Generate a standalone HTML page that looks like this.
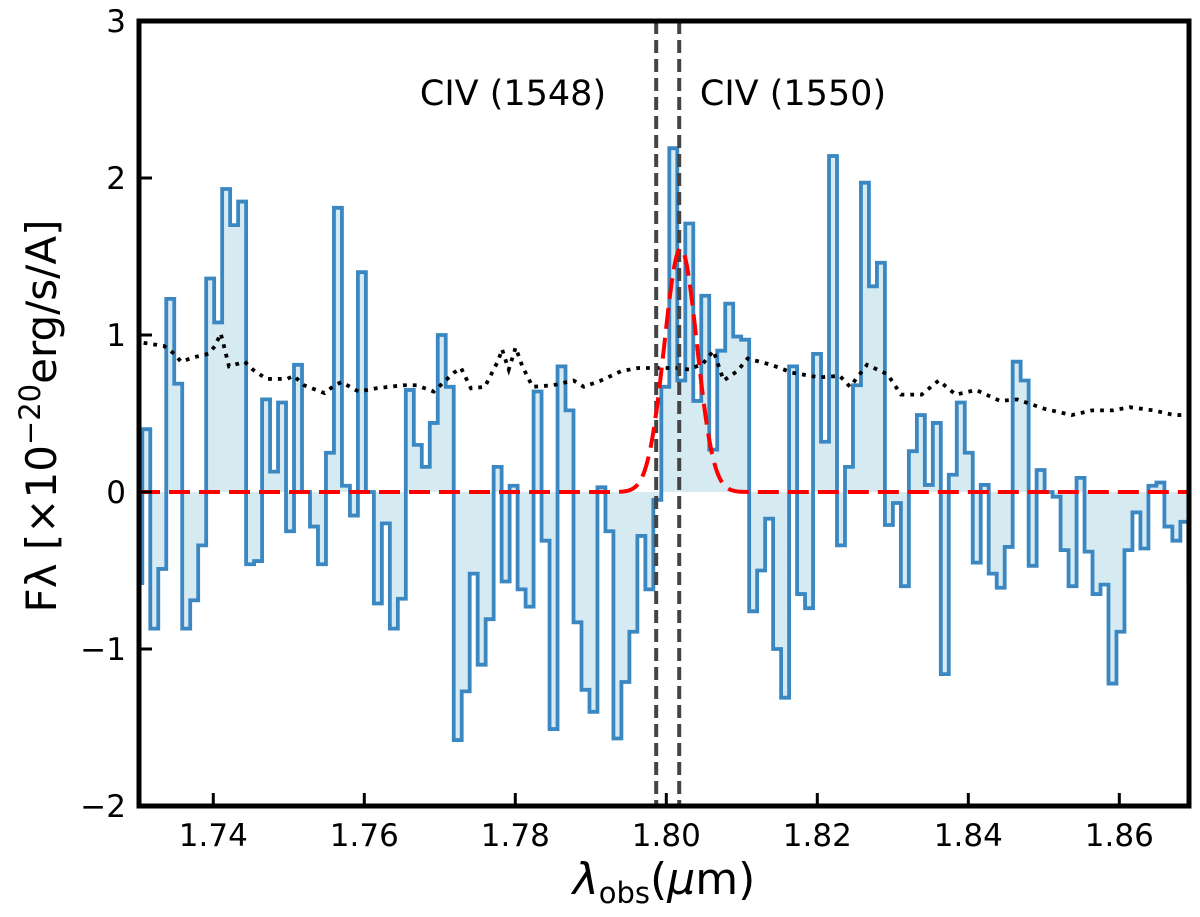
<!DOCTYPE html>
<html><head><meta charset="utf-8"><style>
html,body{margin:0;padding:0;background:#fff;}
svg text{font-family:"DejaVu Sans","Liberation Sans",sans-serif;}
</style></head><body>
<svg id="chart" width="1200" height="912" viewBox="0 0 1200 912" xmlns="http://www.w3.org/2000/svg">
<defs><clipPath id="plotclip"><rect x="139" y="21" width="1050" height="785"/></clipPath></defs>
<g id="plot" clip-path="url(#plotclip)"></g>
<g id="axes"></g>
<text x="513" y="105" font-size="35" text-anchor="middle">CIV (1548)</text>
<text x="793" y="105" font-size="35" text-anchor="middle">CIV (1550)</text>
<text x="664" y="894" font-size="44" text-anchor="middle"><tspan font-style="italic">λ</tspan><tspan font-size="29" dy="9">obs</tspan><tspan dy="-9">(</tspan><tspan font-style="italic">μ</tspan><tspan>m)</tspan></text>
<text transform="translate(56,416) rotate(-90)" font-size="42" text-anchor="middle">Fλ [×10<tspan font-size="29" dy="-16">−20</tspan><tspan dy="16">erg/s/A]</tspan></text>
</svg>
<script>
// ---- data ----
const binStart = 1.72954;   // first bin left edge (µm)
const binWidth = 0.0010576; // bin width (µm)
const fluxValues = [-0.58,0.40,-0.87,-0.49,1.23,0.69,-0.87,-0.69,-0.34,1.36,1.08,1.93,1.70,1.85,-0.46,-0.44,0.59,0.13,0.57,-0.25,
0.81,0.0,-0.22,-0.46,0.25,1.81,0.04,-0.15,1.40,0.0,-0.71,-0.2,-0.87,-0.68,0.65,0.30,0.16,0.44,1.00,0.67,
-1.58,-1.27,-0.52,-1.10,-0.81,0.16,-0.57,0.04,-0.62,-0.73,0.64,-0.31,-1.51,0.80,0.52,-0.83,-1.26,-1.40,0.03,-0.25,
-1.57,-1.21,-0.89,-0.28,-0.62,-0.05,0.67,2.19,0.71,1.71,0.58,1.25,0.27,0.90,1.20,0.99,0.97,-0.76,-0.50,-0.17,
-1.00,-1.31,0.80,-0.65,-0.74,0.88,0.32,2.14,-0.34,0.16,0.68,1.97,1.31,1.46,-0.21,-0.07,-0.60,0.26,0.49,0.045,
0.44,-1.16,0.11,0.57,0.25,-0.45,0.045,-0.52,-0.61,-0.35,0.83,0.71,-0.47,0.14,0.0,-0.03,-0.37,-0.60,0.09,-0.38,
-0.65,-0.59,-1.22,-0.89,-0.37,-0.13,-0.36,0.04,0.06,-0.22,-0.31,-0.19,-0.57];
const noiseX = [1.73077,1.73347,1.73485,1.73572,1.73758,1.73936,1.74023,1.74099,1.74208,1.74415,1.74523,1.74705,1.74976,1.75066,1.75201,1.75473,1.75608,1.75698,1.75924,1.76151,1.76513,1.76693,1.76919,1.77188,1.77281,1.77413,1.77597,1.77777,1.77824,1.77913,1.78004,1.78094,1.78229,1.78499,1.78772,1.78907,1.79134,1.79404,1.79630,1.79857,1.80128,1.80309,1.80489,1.80624,1.80760,1.80940,1.81077,1.81393,1.81665,1.82022,1.82297,1.82433,1.82658,1.82930,1.83109,1.83381,1.83607,1.83833,1.84102,1.84420,1.84645,1.85008,1.85370,1.85639,1.85913,1.86138,1.86454,1.86724,1.86949];
const noiseY = [0.95,0.93,0.88,0.83,0.86,0.88,0.93,1.01,0.80,0.83,0.78,0.72,0.72,0.74,0.68,0.63,0.68,0.70,0.64,0.66,0.68,0.68,0.64,0.76,0.79,0.66,0.67,0.84,0.91,0.78,0.92,0.80,0.67,0.68,0.71,0.67,0.71,0.77,0.79,0.79,0.79,0.78,0.82,0.90,0.71,0.77,0.85,0.81,0.76,0.73,0.74,0.67,0.81,0.75,0.62,0.62,0.71,0.62,0.65,0.58,0.59,0.53,0.49,0.52,0.52,0.54,0.52,0.49,0.49];
const gaussAmp = 1.55, gaussCenter = 1.80190, gaussSigma = 0.00216;
const lineWaves = [1.79866, 1.80171];
const xTicks = [1.74,1.76,1.78,1.80,1.82,1.84,1.86];
const xTickLabels = ["1.74","1.76","1.78","1.80","1.82","1.84","1.86"];
const yTicks = [-2,-1,0,1,2,3];
const yTickLabels = ["−2","−1","0","1","2","3"];

// ---- scales ----
const L=139,R=1189,T=21,B=806;
const xmin=1.73016,xmax=1.86923,ymin=-2,ymax=3;
const X=v=>L+(v-xmin)/(xmax-xmin)*(R-L);
const Y=v=>B-(v-ymin)/(ymax-ymin)*(B-T);
const NS="http://www.w3.org/2000/svg";
const plot=document.getElementById('plot'), axes=document.getElementById('axes');
function mk(tag,attrs,parent){const e=document.createElementNS(NS,tag);for(const k in attrs)e.setAttribute(k,attrs[k]);parent.appendChild(e);return e;}

// step fill + outline
let d='', fd='M'+X(binStart).toFixed(2)+','+Y(0).toFixed(2);
fluxValues.forEach((v,i)=>{
  const x0=X(binStart+i*binWidth), x1=X(binStart+(i+1)*binWidth), y=Y(v);
  d+=(i===0?'M':'L')+x0.toFixed(2)+','+y.toFixed(2)+'L'+x1.toFixed(2)+','+y.toFixed(2);
  fd+='L'+x0.toFixed(2)+','+y.toFixed(2)+'L'+x1.toFixed(2)+','+y.toFixed(2);
});
fd+='L'+X(binStart+fluxValues.length*binWidth).toFixed(2)+','+Y(0).toFixed(2)+'Z';
const fill=mk('path',{d:fd,fill:'#d6eaf2',stroke:'none'},plot);


const step=mk('path',{d:d,fill:'none',stroke:'#3a87c1','stroke-width':3.8,'stroke-linejoin':'miter'},plot);



// noise dotted
let nd='';
noiseX.forEach((x,i)=>{nd+=(i?'L':'M')+X(x).toFixed(2)+','+Y(noiseY[i]).toFixed(2);});
const noise=mk('path',{d:nd,fill:'none',stroke:'#000','stroke-width':3.8,'stroke-dasharray':'3.8,6'},plot);



// vertical line markers
lineWaves.forEach((w,i)=>{
  const vl=mk('line',{x1:X(w),x2:X(w),y1:T,y2:B,stroke:'#444','stroke-width':4,'stroke-dasharray':'13,6'},plot);
  
  
});

// gaussian model
let gd='';
for(let k=0;k<=700;k++){
  const x=xmin+(xmax-xmin)*k/700;
  const y=gaussAmp*Math.exp(-0.5*Math.pow((x-gaussCenter)/gaussSigma,2));
  gd+=(k?'L':'M')+X(x).toFixed(2)+','+Y(y).toFixed(2);
}
const g=mk('path',{d:gd,fill:'none',stroke:'#ff0000','stroke-width':4,'stroke-dasharray':'21,9'},plot);



// frame
const fr=mk('rect',{x:L,y:T,width:R-L,height:B-T,fill:'none',stroke:'#000','stroke-width':5},axes);


xTicks.forEach((t,i)=>{
  const tk=mk('line',{x1:X(t),x2:X(t),y1:B,y2:B-13,stroke:'#000','stroke-width':3},axes);
  
  
  const lb=mk('text',{x:X(t),y:B+40,'font-size':31,'text-anchor':'middle'},axes);
  lb.textContent=xTickLabels[i];
  
  
});
yTicks.forEach((t,i)=>{
  const tk=mk('line',{x1:L,x2:L+13,y1:Y(t),y2:Y(t),stroke:'#000','stroke-width':3},axes);
  
  
  const lb=mk('text',{x:L-13,y:Y(t)+11,'font-size':31,'text-anchor':'end'},axes);
  lb.textContent=yTickLabels[i];
  
  
});
</script>
</body></html>
